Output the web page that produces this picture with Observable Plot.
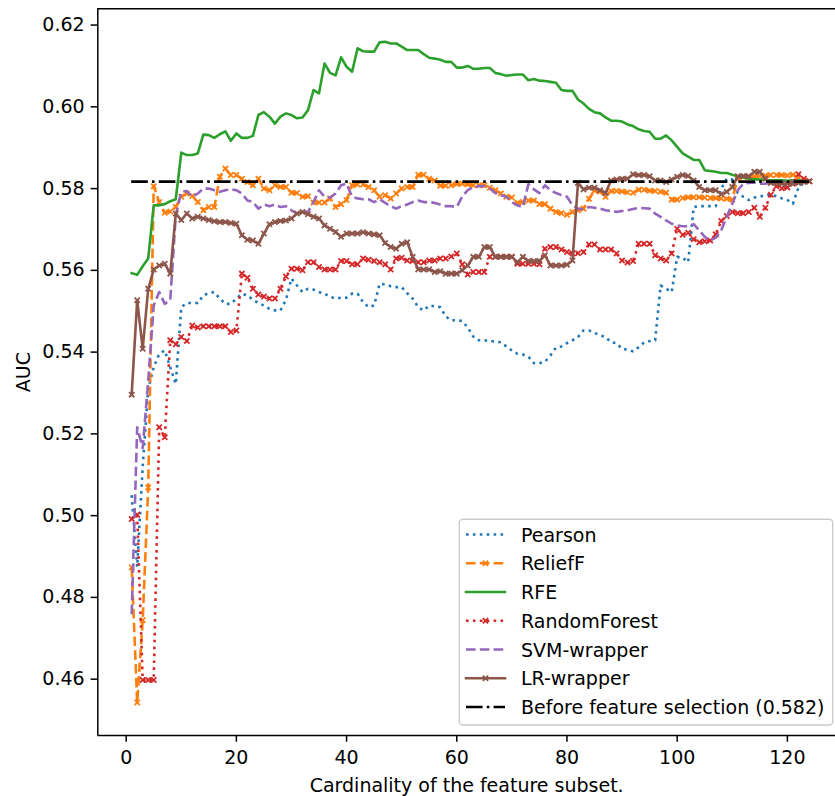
<!DOCTYPE html>
<html><head><meta charset="utf-8">
<script src="https://cdn.jsdelivr.net/npm/d3@7"></script>
<script src="https://cdn.jsdelivr.net/npm/@observablehq/plot@0.6"></script>
<style>
html,body{margin:0;padding:0;background:#fff;overflow:hidden;}
</style></head><body><div id="chart"></div>
<script>
// ---- data ----
const cardinality = d3.range(1, 125); // feature subset sizes 1..124

const pearson = [0.505,0.4875,0.512,0.531,0.5363,0.5396,0.5404,0.5363,0.5322,0.551,
0.552,0.552,0.552,0.5539,0.5544,0.5547,0.5531,0.5518,0.5518,0.5531,
0.5543,0.5539,0.5528,0.552,0.5514,0.5506,0.5502,0.5502,0.5528,0.558,
0.5563,0.5547,0.5555,0.5553,0.5547,0.5543,0.5535,0.5531,0.5533,0.5533,
0.5543,0.5543,0.5522,0.551,0.5514,0.5567,0.5566,0.5561,0.5559,0.5559,
0.5544,0.5531,0.551,0.5502,0.5514,0.5512,0.551,0.5487,0.5478,0.5478,
0.5476,0.546,0.5438,0.5429,0.5429,0.5427,0.5426,0.5424,0.5414,0.5404,
0.5396,0.5394,0.5389,0.5373,0.5373,0.5376,0.5392,0.5411,0.5414,0.5422,
0.5429,0.5437,0.5453,0.5453,0.5447,0.5441,0.5437,0.5424,0.5422,0.5408,
0.5406,0.5402,0.5412,0.5424,0.5427,0.5429,0.5563,0.5555,0.5547,0.5633,
0.5631,0.562,0.5755,0.5757,0.5757,0.5757,0.5757,0.58,0.5824,0.5822,
0.5789,0.578,0.5772,0.5778,0.578,0.5784,0.5786,0.5781,0.5776,0.5772,
0.5763,0.5802,0.5815,0.5819];

const reliefF = [0.4873,0.4543,0.4744,0.5069,0.5806,0.5767,0.5741,0.5744,0.5755,0.578,
0.5788,0.5782,0.5767,0.5747,0.5755,0.5755,0.5829,0.5849,0.5833,0.5833,
0.5824,0.5816,0.5808,0.5824,0.58,0.5796,0.5808,0.5804,0.5804,0.579,
0.5789,0.578,0.5781,0.5766,0.5766,0.5766,0.5776,0.5755,0.5762,0.5772,
0.5808,0.581,0.581,0.5804,0.5796,0.578,0.5784,0.5776,0.5788,0.58,
0.5804,0.5804,0.5834,0.5834,0.5824,0.582,0.5807,0.5807,0.5808,0.5811,
0.5812,0.581,0.5808,0.5808,0.5808,0.5802,0.5796,0.5788,0.578,0.5778,
0.5765,0.5767,0.5771,0.5771,0.5762,0.5762,0.5751,0.5743,0.574,0.5736,
0.5743,0.5747,0.5751,0.5775,0.5795,0.5793,0.578,0.5794,0.5794,0.5793,
0.5791,0.579,0.5797,0.5797,0.5795,0.5794,0.5792,0.579,0.5773,0.5773,
0.5777,0.5779,0.5779,0.5779,0.5778,0.5777,0.5777,0.5776,0.5775,0.5773,
0.5826,0.5829,0.5829,0.583,0.5831,0.5832,0.5833,0.5833,0.5833,0.5832,
0.5834,0.5826,0.582,0.5818];

const rfe = [0.5593,0.5589,0.561,0.5629,0.5759,0.5759,0.5762,0.5769,0.5774,0.5888,
0.5882,0.5882,0.5886,0.5932,0.5931,0.5924,0.5933,0.594,0.5917,0.5935,
0.5924,0.5924,0.5929,0.598,0.5987,0.5976,0.5959,0.5976,0.5984,0.598,
0.5972,0.5974,0.5992,0.6041,0.6033,0.6106,0.6083,0.6077,0.6121,0.6098,
0.6086,0.6143,0.6136,0.6135,0.6135,0.6158,0.6159,0.6155,0.6155,0.6147,
0.6139,0.6139,0.6139,0.6129,0.612,0.6118,0.6115,0.611,0.611,0.6096,
0.6096,0.61,0.6093,0.6093,0.6095,0.6095,0.6083,0.608,0.6076,0.6078,
0.6079,0.6079,0.6065,0.6068,0.6064,0.6063,0.6061,0.6059,0.6041,0.6039,
0.6039,0.6018,0.6008,0.5995,0.5987,0.5984,0.5974,0.5966,0.5966,0.5964,
0.5957,0.5953,0.5945,0.5941,0.5939,0.5922,0.5922,0.593,0.5918,0.5902,
0.5886,0.5878,0.587,0.587,0.5845,0.5843,0.5841,0.5838,0.5838,0.5834,
0.583,0.5827,0.5824,0.5823,0.5822,0.5821,0.582,0.582,0.582,0.5819,
0.582,0.582,0.582,0.5819];

const randomForest = [0.4992,0.5002,0.4598,0.4598,0.4598,0.5216,0.5192,0.5429,0.5419,0.5437,
0.5427,0.5465,0.546,0.5463,0.5463,0.5463,0.5463,0.5463,0.5449,0.5453,
0.5592,0.5582,0.5555,0.5541,0.5536,0.5531,0.5531,0.5555,0.5585,0.5604,
0.5604,0.56,0.562,0.562,0.5608,0.5602,0.5602,0.5602,0.5623,0.5623,
0.5615,0.5615,0.5629,0.5626,0.5623,0.562,0.5615,0.5602,0.5629,0.5631,
0.5624,0.5623,0.562,0.562,0.5624,0.5624,0.5629,0.5629,0.5634,0.5641,
0.5615,0.559,0.5596,0.5596,0.5596,0.5633,0.5633,0.5633,0.5633,0.5633,
0.5616,0.5616,0.5616,0.5616,0.5615,0.5653,0.5657,0.5657,0.5651,0.5645,
0.5641,0.5642,0.5645,0.5663,0.5663,0.5651,0.5651,0.5651,0.5641,0.5624,
0.5619,0.5623,0.5665,0.5665,0.5665,0.5637,0.5629,0.5624,0.5641,0.5702,
0.5687,0.5692,0.5676,0.5669,0.5671,0.5673,0.5688,0.5721,0.5733,0.5743,
0.574,0.574,0.5743,0.5753,0.5731,0.5753,0.5785,0.5806,0.5801,0.5803,
0.5812,0.5835,0.5824,0.5818];

const svmWrapper = [0.4759,0.5216,0.5165,0.533,0.5514,0.5547,0.5518,0.5528,0.5735,0.5792,
0.5794,0.578,0.5788,0.58,0.58,0.5796,0.5792,0.5796,0.5798,0.5796,
0.5788,0.5771,0.5767,0.5751,0.5761,0.5757,0.5761,0.5755,0.5757,0.5747,
0.5739,0.5743,0.5743,0.5767,0.5796,0.578,0.5778,0.5788,0.5808,0.5812,
0.578,0.5776,0.5774,0.5774,0.5767,0.5774,0.5765,0.5757,0.5751,0.5757,
0.5761,0.5767,0.5771,0.5767,0.5767,0.5765,0.5761,0.5757,0.5757,0.5755,
0.5781,0.5796,0.5804,0.5806,0.5806,0.58,0.5789,0.5784,0.578,0.5767,
0.5759,0.5755,0.5811,0.5798,0.5789,0.5808,0.5796,0.5789,0.5784,0.578,
0.5759,0.5751,0.5749,0.5755,0.5753,0.5751,0.5747,0.5745,0.5743,0.5745,
0.5747,0.575,0.5753,0.5752,0.5751,0.5739,0.5731,0.5722,0.5714,0.571,
0.5708,0.5708,0.5713,0.5698,0.5682,0.5673,0.568,0.5698,0.5731,0.5763,
0.5796,0.5812,0.5814,0.5815,0.5812,0.5812,0.5815,0.5814,0.5813,0.5815,
0.5817,0.5818,0.5818,0.5819];

const lrWrapper = [0.5296,0.5527,0.5408,0.5555,0.5602,0.5612,0.5616,0.5592,0.5739,0.5723,
0.5739,0.5727,0.5731,0.5727,0.5723,0.572,0.5718,0.5718,0.5716,0.5714,
0.5686,0.5675,0.5673,0.5665,0.569,0.5713,0.5718,0.5721,0.5722,0.5727,
0.5739,0.5743,0.5737,0.5731,0.5727,0.571,0.5702,0.5694,0.5682,0.569,
0.569,0.569,0.5693,0.569,0.5688,0.5686,0.5667,0.5657,0.5653,0.5665,
0.5669,0.5633,0.5602,0.5602,0.5602,0.5596,0.5598,0.5592,0.5592,0.5592,
0.56,0.5612,0.5633,0.5633,0.5657,0.5657,0.5633,0.5633,0.5633,0.5633,
0.562,0.5633,0.5623,0.5623,0.5623,0.5637,0.5612,0.5612,0.5612,0.5614,
0.5624,0.5814,0.5798,0.5802,0.5802,0.5796,0.5789,0.582,0.5822,0.5824,
0.5824,0.5835,0.5833,0.5833,0.583,0.582,0.582,0.5816,0.5822,0.5829,
0.5833,0.5831,0.582,0.5804,0.5796,0.5796,0.5796,0.5786,0.5792,0.5804,
0.583,0.5831,0.583,0.5841,0.5841,0.5824,0.5814,0.5814,0.5812,0.5812,
0.5814,0.5814,0.5816,0.5818];

const baselineAUC = 0.5817;
const baselineLabel = "Before feature selection (0.582)";

const seriesNames = ["Pearson","ReliefF","RFE","RandomForest","SVM-wrapper","LR-wrapper"];
const seriesValues = [pearson, reliefF, rfe, randomForest, svmWrapper, lrWrapper];

const yTicks = [0.46,0.48,0.50,0.52,0.54,0.56,0.58,0.60,0.62];
const xTicks = [0,20,40,60,80,100,120];
const xLabel = "Cardinality of the feature subset.";
const yLabel = "AUC";

// ---- styles ----
const LW = 2.6;
const DOT = "2.6,4.3", DASH = "9.6,4.2", DASHDOT = "16.6,4.2,2.6,4.2";
const styles = {
  "Pearson":      {color:"#1f77b4", dash:DOT,  marker:false},
  "ReliefF":      {color:"#ff7f0e", dash:DASH, marker:true},
  "RFE":          {color:"#2ca02c", dash:null, marker:false},
  "RandomForest": {color:"#d62728", dash:DOT,  marker:true},
  "SVM-wrapper":  {color:"#9467bd", dash:DASH, marker:false},
  "LR-wrapper":   {color:"#8c564b", dash:null, marker:true}
};
const MR = 2.5;

// ---- build ----
const xMin = d3.min(cardinality), xMax = d3.max(cardinality);
const xPad = (xMax - xMin) * 0.05;
const allY = seriesValues.flat();
const yMin = d3.min(allY), yMax = d3.max(allY);
const yPad = (yMax - yMin) * 0.05;
const xDomain = [xMin - xPad, xMax + xPad];
const yDomain = [yMin - yPad, yMax + yPad];

const marks = [];
seriesNames.forEach((name, k) => {
  const st = styles[name];
  const rows = cardinality.map((x, i) => ({x, y: seriesValues[k][i]}));
  marks.push(Plot.line(rows, {x:"x", y:"y", stroke:st.color, strokeWidth:LW,
    strokeDasharray: st.dash || undefined,
    strokeLinecap: st.dash ? "butt" : "square", strokeLinejoin:"round"}));
  if (st.marker) marks.push(Plot.dot(rows, {x:"x", y:"y", symbol:"times", r:MR, stroke:st.color, strokeWidth:1.8}));
});
marks.push(Plot.ruleY([baselineAUC], {x1: xMin, x2: xMax, stroke:"black", strokeWidth:LW, strokeDasharray:DASHDOT}));

const W = 835, H = 796, ML = 97.3, MT = 8.3, MB = 61;
const xRangeRight = 842.8;

const chart = Plot.plot({
  width: W, height: H,
  marginLeft: ML, marginRight: 0, marginTop: MT, marginBottom: MB,
  style: {fontFamily:"DejaVu Sans", fontSize:"19px", background:"white", color:"black", overflow:"visible"},
  x: {domain: xDomain, range: [ML, xRangeRight], label: null},
  y: {domain: yDomain, label: null},
  marks: [
    ...marks,
    Plot.axisX({ticks: xTicks, tickSize: 6.7, tickPadding: 8.5, strokeWidth: 1.5, label: null, tickFormat: d3.format("d")}),
    Plot.axisY({ticks: yTicks, tickSize: 6.7, tickPadding: 6.5, strokeWidth: 1.5, label: null, tickFormat: d3.format(".2f")}),
    Plot.ruleX([xDomain[0]], {stroke:"black", strokeWidth:1.5}),
    Plot.ruleY([yDomain[0], yDomain[1]], {stroke:"black", strokeWidth:1.5}),
    Plot.text([xLabel], {frameAnchor:"bottom", text:d=>d, dy:50, textAnchor:"middle", lineAnchor:"middle", fill:"black"}),
    Plot.text([yLabel], {frameAnchor:"left", text:d=>d, dx:-74, rotate:-90, textAnchor:"middle", lineAnchor:"middle", fill:"black"})
  ]
});
document.getElementById("chart").appendChild(chart);

// ---- legend (inside axes, lower right) ----
const lg = d3.select(chart).append("g").attr("font-family","DejaVu Sans").attr("font-size","19px").attr("text-anchor","start");
const LX0 = 459.3, LY0 = 519.3, LW_ = 373.4, LH = 205.7;
lg.append("rect").attr("x",LX0).attr("y",LY0).attr("width",LW_).attr("height",LH)
  .attr("rx",3.5).attr("fill","white").attr("fill-opacity",0.8).attr("stroke","#cccccc").attr("stroke-width",1.4);
const items = seriesNames.map(n => ({label:n, ...styles[n]}));
items.push({label: baselineLabel, color:"black", dash:DASHDOT, marker:false});
const hx0 = 466, hx1 = 505, tx = 521, row0 = 534.5, rowStep = 28.75;
items.forEach((it, i) => {
  const cy = row0 + rowStep * i;
  lg.append("line").attr("x1",hx0).attr("x2",hx1).attr("y1",cy).attr("y2",cy)
    .attr("stroke",it.color).attr("stroke-width",LW)
    .attr("stroke-dasharray", it.dash || null).attr("stroke-linecap", it.dash ? "butt" : "square");
  if (it.marker) {
    lg.append("path").attr("d", d3.symbol(d3.symbolTimes, MR*MR*Math.PI)())
      .attr("transform",`translate(${(hx0+hx1)/2},${cy})`).attr("fill","none")
      .attr("stroke",it.color).attr("stroke-width",1.8);
  }
  lg.append("text").attr("x",tx).attr("y",cy+7.2).attr("text-anchor","start").attr("fill","black").text(it.label);
});
</script></body></html>
